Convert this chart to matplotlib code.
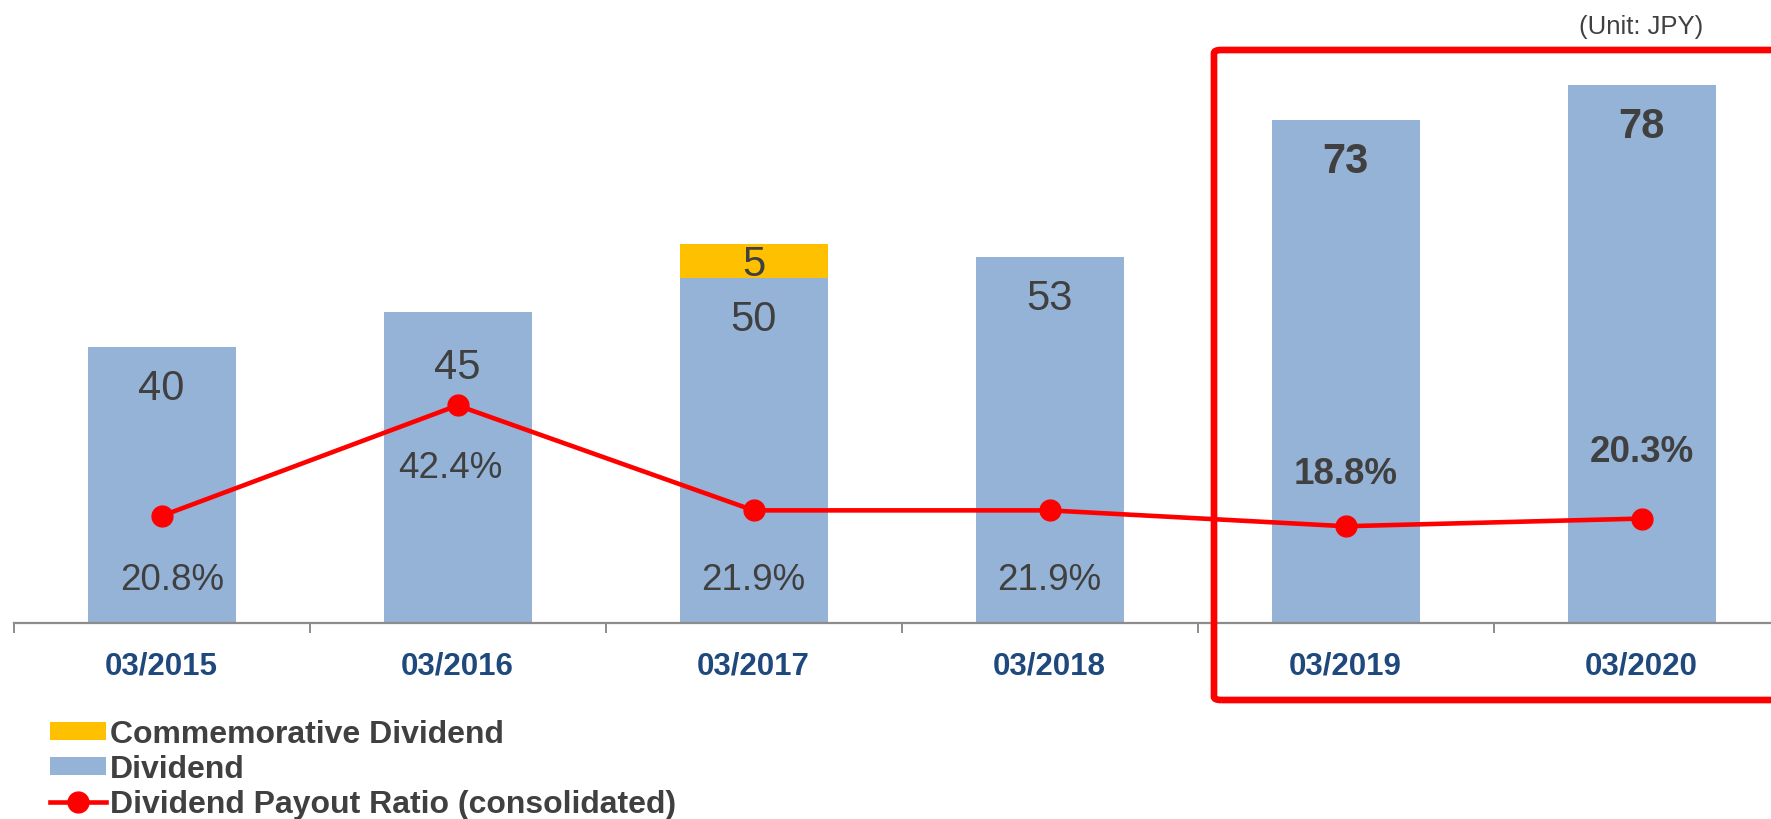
import matplotlib
matplotlib.use("Agg")
import matplotlib.pyplot as plt
from matplotlib.patches import FancyBboxPatch
from matplotlib.lines import Line2D
from matplotlib.patches import Patch

plt.rcParams['font.family'] = ['Liberation Sans', 'DejaVu Sans']

# ---- data ----
periods = ["03/2015", "03/2016", "03/2017", "03/2018", "03/2019", "03/2020"]
dividend = [40, 45, 50, 53, 73, 78]
commemorative = [0, 0, 5, 0, 0, 0]
payout_ratio = [20.8, 42.4, 21.9, 21.9, 18.8, 20.3]

# ---- styling ----
BLUE = "#95B3D7"
GOLD = "#FFC000"
RED = "#FF0000"
TEXT = "#404040"
NAVY = "#1F497D"

W, H = 1771, 820
fig = plt.figure(figsize=(W / 100, H / 100), dpi=100)

# axes: x spine starts near the left edge and runs past the right edge
ax_left, ax_bottom, ax_top = 13.5, 623.5, 40.0
cat_w = 296.0
ax = fig.add_axes([ax_left / W, (H - ax_bottom) / H,
                   cat_w * len(periods) / W, (ax_bottom - ax_top) / H])
ax.set_xlim(-0.5, len(periods) - 0.5)
ax.set_ylim(0, (ax_bottom - ax_top) / 6.89)

x = list(range(len(periods)))
ax.bar(x, dividend, width=0.5, color=BLUE, zorder=2)
ax.bar(x, commemorative, width=0.5, bottom=dividend, color=GOLD, zorder=2)

for s in ["top", "right", "left"]:
    ax.spines[s].set_visible(False)
ax.spines["bottom"].set_color("#8C8C8C")
ax.spines["bottom"].set_linewidth(1.6)
ax.set_yticks([])
ax.set_xticks([i - 0.5 for i in range(len(periods) + 1)], minor=False)
ax.set_xticklabels([])
ax.tick_params(axis="x", length=7, width=1.4, color="#8C8C8C", direction="out")
ax.set_xticks(x, minor=True)
ax.set_xticklabels(periods, minor=True)
ax.tick_params(axis="x", which="minor", length=0, pad=20,
               labelsize=22.5, labelcolor=NAVY)
for t in ax.get_xticklabels(minor=True):
    t.set_fontweight("bold")

# dividend values inside bars
bold_from = 4
for i, v in enumerate(dividend):
    dy = -39 if i == 1 else -29.5
    ax.annotate(f"{v}", (i, v), xytext=(0, dy), textcoords="offset points",
                ha="center", va="center", fontsize=30, color=TEXT,
                fontweight="bold" if i >= bold_from else "normal", zorder=5)
for i, c in enumerate(commemorative):
    if c:
        ax.annotate(f"{c}", (i, dividend[i] + c / 2), xytext=(0, -2),
                    textcoords="offset points", ha="center", va="center",
                    fontsize=30, color=TEXT, zorder=5)

# payout ratio line on a secondary scale
ax2 = ax.twinx()
ax2.set_ylim(0, (ax_bottom - ax_top) / 5.12)
ax2.axis("off")
ax2.plot(x, payout_ratio, color=RED, lw=3.3, marker="o", markersize=15,
         zorder=4, solid_capstyle="round")

# label offsets (points) relative to each marker
lab_off = [(8, -46), (-5, -45), (0, -50), (0, -50), (0, 38), (0, 48)]
for i, p in enumerate(payout_ratio):
    ax2.annotate(f"{p}%", (i, p), xytext=lab_off[i], textcoords="offset points",
                 ha="center", va="center", fontsize=26.5, color=TEXT,
                 fontweight="bold" if i >= bold_from else "normal", zorder=5)

# highlight frame around the latest two periods
frame = FancyBboxPatch((1214 / W, (H - 701) / H), (1800 - 1214) / W, (701 - 51) / H,
                       boxstyle="round,pad=0,rounding_size=0.004",
                       transform=fig.transFigure, fill=False, edgecolor=RED,
                       linewidth=4.8, zorder=10)
fig.add_artist(frame)

fig.text(1641 / W, 1 - 27 / H, "(Unit: JPY)", ha="center", va="center",
         fontsize=18.5, color=TEXT)

handles = [Patch(facecolor=GOLD, edgecolor="none"),
           Patch(facecolor=BLUE, edgecolor="none"),
           Line2D([0], [0], color=RED, lw=3.3, marker="o", markersize=15)]
labels = ["Commemorative Dividend", "Dividend", "Dividend Payout Ratio (consolidated)"]
leg = fig.legend(handles, labels, loc="upper left",
                 bbox_to_anchor=(50 / W, 1 - 720 / H), frameon=False,
                 prop={"size": 23, "weight": "bold"}, labelcolor=TEXT,
                 handlelength=1.75, handleheight=0.5, handletextpad=0.12,
                 labelspacing=0.16, borderaxespad=0, borderpad=0)

fig.savefig("out.png", dpi=100)
